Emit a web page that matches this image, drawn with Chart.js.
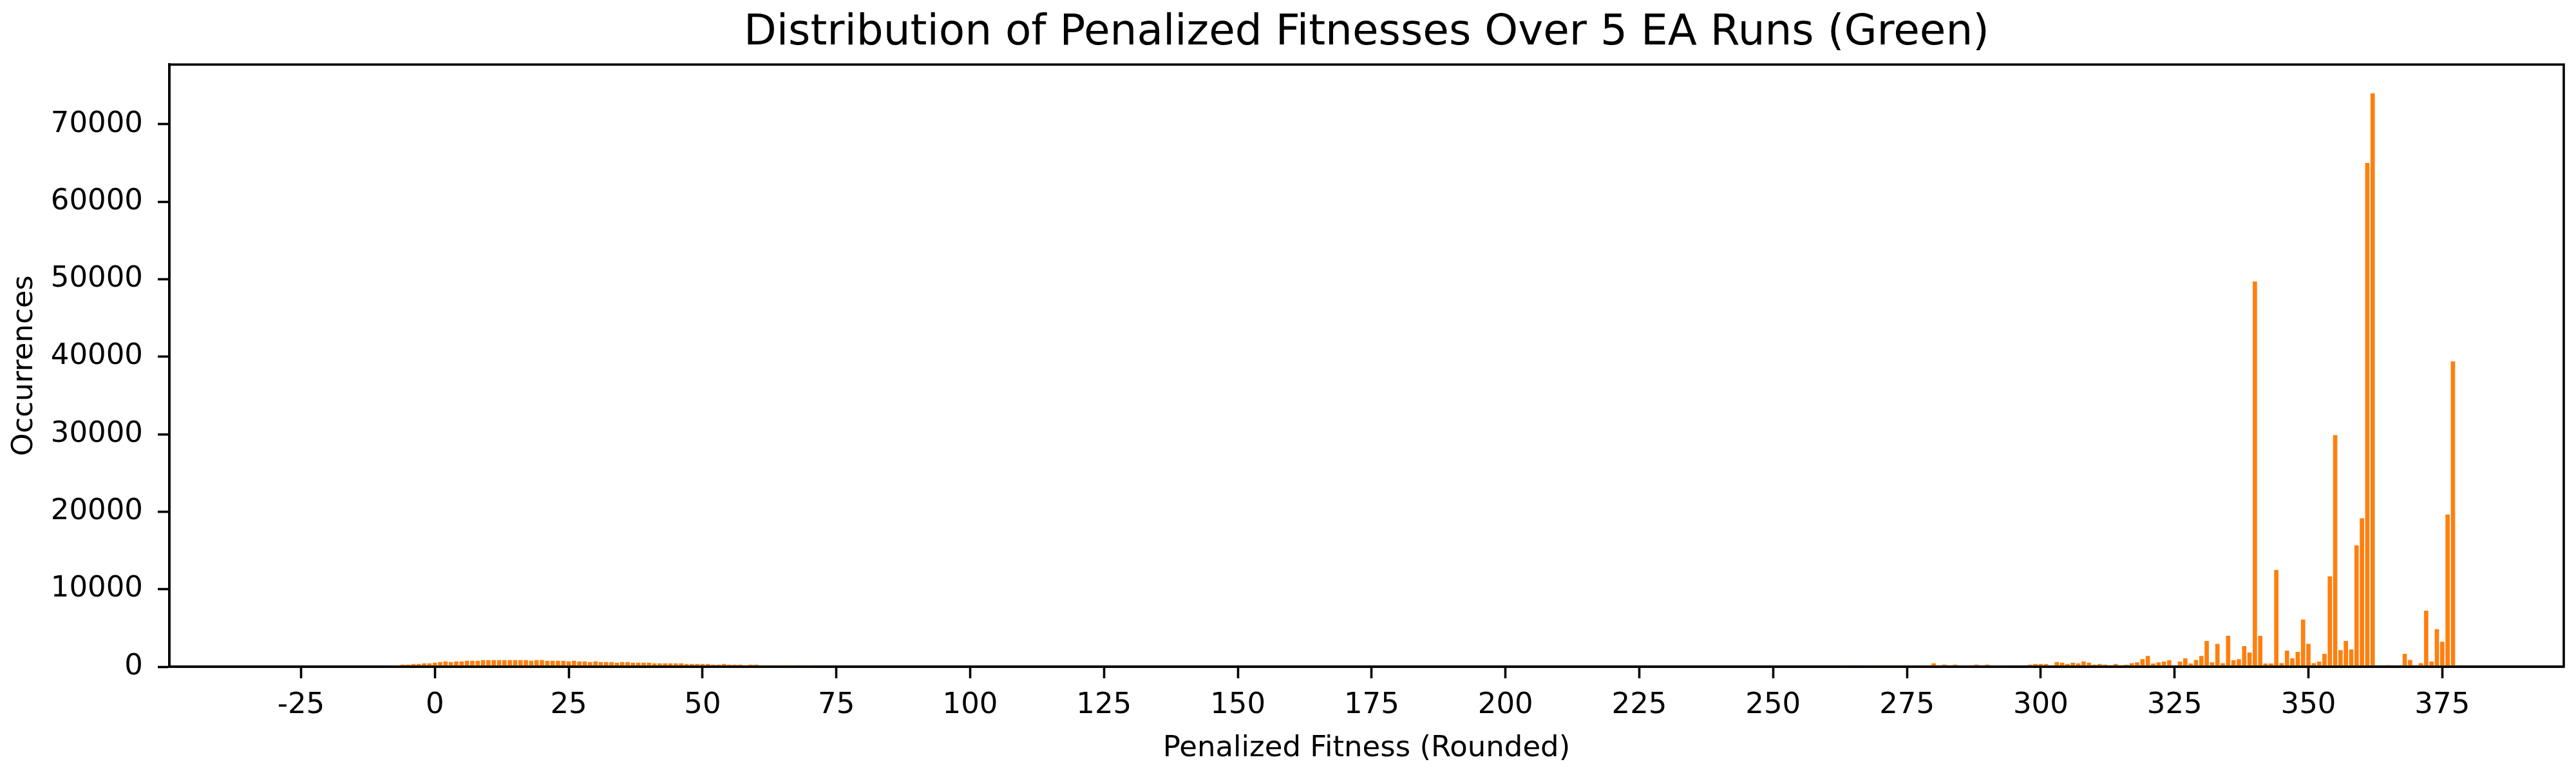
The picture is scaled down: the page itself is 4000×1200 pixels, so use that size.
<!DOCTYPE html>
<html>
<head>
<meta charset="utf-8">
<title>Distribution of Penalized Fitnesses</title>
<script src="https://cdn.jsdelivr.net/npm/chart.js@4.4.1/dist/chart.umd.min.js"></script>
<style>
  html, body { margin: 0; padding: 0; background: #fff; }
  #chart { display: block; }
</style>
</head>
<body>
<canvas id="chart" width="4000" height="1200"></canvas>
<script>
// rounded penalized fitness values (bins) and how often each one occurred
const fitness = [
  -8, -7, -6, -5, -4, -3, -2, -1, 0, 1, 2, 3, 4, 5, 6, 7, 8, 9, 10,
  11, 12, 13, 14, 15, 16, 17, 18, 19, 20, 21, 22, 23, 24, 25, 26, 27, 28, 29, 30,
  31, 32, 33, 34, 35, 36, 37, 38, 39, 40, 41, 42, 43, 44, 45, 46, 47, 48, 49, 50,
  51, 52, 53, 54, 55, 56, 57, 58, 59, 60, 61, 62, 63, 64, 65, 66, 67, 69, 70,
  263, 268, 270, 273, 275, 277, 278, 279, 280, 281, 282, 283, 284, 285, 286, 287, 288, 289, 290,
  291, 292, 293, 298, 299, 300, 301, 302, 303, 304, 305, 306, 307, 308, 309, 310,
  311, 312, 314, 315, 316, 317, 318, 319, 320, 321, 322, 323, 324, 326, 327, 328, 329, 330,
  331, 332, 333, 334, 335, 336, 337, 338, 339, 340, 341, 342, 343, 344, 345, 346, 347, 348, 349, 350,
  351, 352, 353, 354, 355, 356, 357, 358, 359, 360, 361, 362, 365, 368, 369, 371, 372, 373, 374, 375,
  376, 377
];
const occurrences = [
  190, 190, 270, 270, 350, 350, 440, 440, 520, 600, 690, 600, 690, 690, 770, 770, 770, 850, 850,
  850, 850, 850, 850, 850, 850, 850, 770, 850, 850, 770, 770, 770, 770, 690, 770, 690, 690, 600, 690,
  600, 600, 600, 520, 600, 600, 520, 520, 520, 520, 440, 440, 440, 440, 440, 440, 350, 350, 350, 350,
  350, 270, 270, 350, 270, 270, 270, 190, 270, 270, 190, 190, 190, 190, 190, 190, 190, 190, 190,
  190, 190, 190, 190, 190, 190, 190, 190, 440, 190, 270, 190, 270, 190, 190, 190, 270, 190, 270,
  190, 190, 190, 270, 350, 350, 350, 190, 600, 520, 350, 520, 440, 690, 520, 270,
  350, 270, 350, 190, 250, 460, 570, 980, 1400, 410, 570, 670, 830, 670, 1090, 410, 880, 1400,
  3330, 570, 2960, 460, 4000, 830, 980, 2650, 1820, 49700, 4000, 410, 410, 12490, 460, 2080, 1090, 1920, 6090, 2960,
  460, 670, 1660, 11660, 29890, 2130, 3330, 2230, 15670, 19160, 65000, 74000, 200, 1660, 880, 460, 7230, 670, 4840, 3220,
  19630, 39400
];
const xTicks = [-25, 0, 25, 50, 75, 100, 125, 150, 175, 200, 225, 250, 275, 300, 325, 350, 375];
const yTicks = [0, 10000, 20000, 30000, 40000, 50000, 60000, 70000];

const FONT = 'DejaVu Sans';

// matplotlib style box around the axes
const framePlugin = {
  id: 'frame',
  afterDraw(chart) {
    const a = chart.chartArea;
    const ctx = chart.ctx;
    ctx.save();
    ctx.strokeStyle = '#000';
    ctx.lineWidth = 3.6;
    ctx.strokeRect(a.left, a.top, a.right - a.left, a.bottom - a.top);
    ctx.restore();
  }
};

const points = fitness.map((f, i) => ({ x: f, y: occurrences[i] }));

new Chart(document.getElementById('chart'), {
  type: 'bar',
  data: {
    datasets: [{
      data: points,
      backgroundColor: '#ff7f0e',
      borderWidth: 0,
      categoryPercentage: 1.0,
      barPercentage: 0.8
    }]
  },
  options: {
    responsive: false,
    animation: false,
    devicePixelRatio: 1,
    layout: { padding: { top: 0, right: 19, bottom: 0, left: 0 } },
    plugins: {
      legend: { display: false },
      tooltip: { enabled: false },
      title: {
        display: true,
        fullSize: false,
        text: 'Distribution of Penalized Fitnesses Over 5 EA Runs (Green)',
        color: '#000',
        font: { family: FONT, size: 66, weight: 'normal' },
        padding: { top: 12, bottom: 9 }
      }
    },
    scales: {
      x: {
        type: 'linear',
        min: -49.6,
        max: 397.7,
        offset: false,
        afterFit(scale) { scale.height = 165; },
        afterBuildTicks(scale) { scale.ticks = xTicks.map(v => ({ value: v })); },
        grid: {
          offset: false,
          drawOnChartArea: false,
          drawTicks: true,
          tickLength: 18,
          tickWidth: 3.6,
          tickColor: '#000'
        },
        border: { display: true, color: '#000', width: 3.6 },
        ticks: {
          color: '#000',
          padding: 15,
          maxRotation: 0,
          autoSkip: false,
          font: { family: FONT, size: 45 },
          callback: v => String(v)
        },
        title: {
          display: true,
          text: 'Penalized Fitness (Rounded)',
          color: '#000',
          font: { family: FONT, size: 45 },
          padding: { top: 0, bottom: 11 }
        }
      },
      y: {
        min: 0,
        max: 77700,
        afterFit(scale) { scale.width = 263; },
        afterBuildTicks(scale) { scale.ticks = yTicks.map(v => ({ value: v })); },
        grid: {
          drawOnChartArea: false,
          drawTicks: true,
          tickLength: 18,
          tickWidth: 3.6,
          tickColor: '#000'
        },
        border: { display: true, color: '#000', width: 3.6 },
        ticks: {
          color: '#000',
          padding: 23,
          font: { family: FONT, size: 45 },
          callback: v => String(v)
        },
        title: {
          display: true,
          text: 'Occurrences',
          color: '#000',
          font: { family: FONT, size: 45 },
          padding: { top: 11, bottom: 0 }
        }
      }
    }
  },
  plugins: [framePlugin]
});
</script>
</body>
</html>
